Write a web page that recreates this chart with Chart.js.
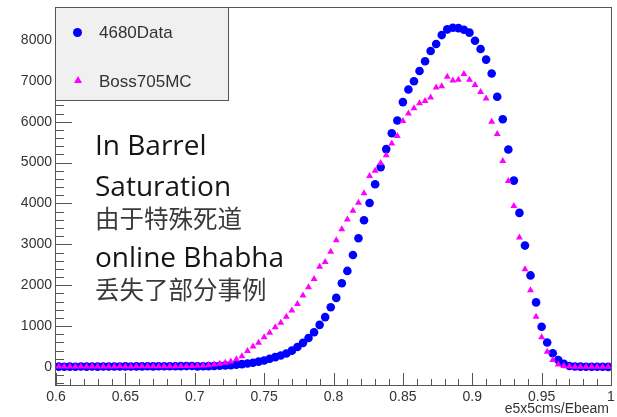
<!DOCTYPE html>
<html>
<head>
<meta charset="utf-8">
<script src="https://cdn.jsdelivr.net/npm/chart.js@4.4.1/dist/chart.umd.min.js"></script>
<style>
  body { margin: 0; background: #fff; }
  #wrap { position: relative; width: 617px; height: 417px; overflow: hidden; }
  #cv { position: absolute; left: 0; top: 0; }
  #legend {
    position: absolute; left: 55px; top: 7px; width: 172px; height: 92px;
    background: #f0f0f0; border: 1px solid #555;
  }
  .leg-txt {
    position: absolute; left: 43px; font: 17px "Liberation Sans", Arial, sans-serif;
    line-height: 17px; color: #333; white-space: nowrap;
  }
  .dot { position: absolute; left: 17px; top: 20px; width: 9px; height: 9px; border-radius: 50%; background: #0000ff; }
  .tri {
    position: absolute; left: 18px; top: 68px; width: 0; height: 0;
    border-left: 4px solid transparent; border-right: 4px solid transparent; border-bottom: 7px solid #ff00ff;
  }
  .note { position: absolute; left: 95px; white-space: nowrap; }
  .en { font: 28px "Open Sans", sans-serif; line-height: 28px; color: #151515; }
  .cn { font: 24.5px "Noto Sans CJK SC", sans-serif; line-height: 24.5px; color: #3a3a3a; }
  #xtitle {
    position: absolute; right: 8px; top: 401px; font: 14px "Liberation Sans", Arial, sans-serif;
    line-height: 14px; color: #333;
  }
</style>
</head>
<body>
<div id="wrap">
  <canvas id="cv" width="617" height="417"></canvas>
  <div id="legend">
    <div class="dot"></div><div class="leg-txt" style="top:16px">4680Data</div>
    <div class="tri"></div><div class="leg-txt" style="top:65px">Boss705MC</div>
  </div>
  <div class="note en" style="top:130px">In Barrel</div>
  <div class="note en" style="top:171px">Saturation</div>
  <div class="note cn" style="top:206px">由于特殊死道</div>
  <div class="note en" style="top:242px">online Bhabha</div>
  <div class="note cn" style="top:277px">丢失了部分事例</div>
  <div id="xtitle">e5x5cms/Ebeam</div>
</div>
<script>
// histogram binning of e5x5cms/Ebeam: 100 bins in [0.6, 1.0]
const binLow = 0.6;
const binWidth = 0.004;

// 4680 data, counts per bin
const data4680 = [
  8, 6, 9, 7, 10, 8, 11, 9, 12, 10,
  13, 11, 14, 12, 15, 14, 16, 15, 18, 17,
  19, 18, 21, 22, 24, 15, 17, 20, 25, 30,
  38, 45, 55, 70, 85, 105, 130, 160, 200, 240,
  280, 330, 400, 490, 590, 710, 850, 1030, 1220, 1460,
  1690, 2050, 2350, 2740, 3150, 3590, 4010, 4470, 4890, 5330,
  5720, 6030, 6480, 6790, 6990, 7240, 7480, 7730, 7900, 8120,
  8260, 8300, 8290, 8250, 8180, 7980, 7780, 7520, 7180, 6610,
  6060, 5320, 4560, 3770, 2970, 2240, 1580, 985, 600, 335,
  170, 75, 25, 12, 8, 6, 5, 4, 4, 3
];

// Boss705 MC, counts per bin
const mc705 = [
  10, 12, 9, 11, 13, 10, 12, 14, 11, 13,
  12, 15, 13, 14, 16, 15, 17, 16, 18, 17,
  19, 20, 21, 23, 25, 28, 35, 45, 60, 80,
  105, 135, 190, 260, 390, 500, 590, 725, 840, 970,
  1080, 1230, 1380, 1540, 1750, 1950, 2150, 2450, 2570, 2820,
  3100, 3370, 3610, 3820, 4020, 4250, 4670, 4800, 4990, 5180,
  5470, 5650, 6020, 6200, 6330, 6450, 6510, 6590, 6840, 6870,
  7100, 7010, 7030, 7170, 7030, 6900, 6730, 6570, 6000, 5700,
  5040, 4550, 3940, 3170, 2390, 1880, 1230, 730, 375, 170,
  60, 25, 12, 8, 6, 5, 5, 4, 4, 3
];

const xTicks = [0.6, 0.65, 0.7, 0.75, 0.8, 0.85, 0.9, 0.95, 1];
const xTickLabels = ['0.6', '0.65', '0.7', '0.75', '0.8', '0.85', '0.9', '0.95', '1'];
const yTicks = [0, 1000, 2000, 3000, 4000, 5000, 6000, 7000, 8000];

const binCenters = data4680.map((_, i) => binLow + binWidth * (i + 0.5));
const toPoints = (arr) => arr.map((v, i) => ({ x: binCenters[i], y: v }));

// ROOT-like frame with inward ticks, drawn under the markers
const rootFrame = {
  id: 'rootFrame',
  beforeDatasetsDraw(chart) {
    const ctx = chart.ctx;
    const a = chart.chartArea;
    const xs = chart.scales.x, ys = chart.scales.y;
    ctx.save();
    ctx.strokeStyle = '#555';
    ctx.lineWidth = 1;
    ctx.strokeRect(a.left - 0.5, a.top + 0.5, a.right - a.left + 1, a.bottom - a.top);

    ctx.beginPath();
    // x ticks: major every 0.05, 4 minors between
    const xStep = (xTicks[1] - xTicks[0]) / 5;
    for (let k = 0; k <= Math.round((xs.max - xs.min) / xStep); k++) {
      const v = xs.min + k * xStep;
      const px = Math.round(xs.getPixelForValue(v)) + 0.5;
      const len = k % 5 === 0 ? 12 : 6;
      ctx.moveTo(px, a.bottom);
      ctx.lineTo(px, a.bottom - len);
    }
    // y ticks: major every 1000, minors every 200
    const yStep = (yTicks[1] - yTicks[0]) / 5;
    for (let v = Math.ceil(ys.min / yStep) * yStep; v <= ys.max; v += yStep) {
      const py = Math.round(ys.getPixelForValue(v)) + 0.5;
      const len = Math.round(v) % 1000 === 0 ? 16 : 8;
      ctx.moveTo(a.left, py);
      ctx.lineTo(a.left + len, py);
    }
    ctx.stroke();
    ctx.restore();
  }
};

const tickFont = { family: 'Liberation Sans', size: 14 };

new Chart(document.getElementById('cv'), {
  type: 'scatter',
  data: {
    datasets: [
      {
        label: '4680Data',
        data: toPoints(data4680),
        pointStyle: 'circle',
        pointRadius: 4.3,
        borderWidth: 0,
        backgroundColor: '#0000ff',
        borderColor: '#0000ff',
        order: 1
      },
      {
        label: 'Boss705MC',
        data: toPoints(mc705),
        pointStyle: 'triangle',
        pointRadius: 4,
        borderWidth: 0,
        backgroundColor: '#ff00ff',
        borderColor: '#ff00ff',
        order: 0
      }
    ]
  },
  options: {
    responsive: false,
    animation: false,
    devicePixelRatio: 1,
    layout: { padding: { top: 7, right: 6, left: 0, bottom: 0 } },
    plugins: { legend: { display: false }, tooltip: { enabled: false } },
    events: [],
    scales: {
      x: {
        type: 'linear',
        min: 0.6,
        max: 1.0,
        grid: { display: false },
        border: { display: false },
        afterBuildTicks: (s) => { s.ticks = xTicks.map(v => ({ value: v })); },
        afterFit: (s) => { s.height = 32; },
        ticks: {
          font: tickFont,
          color: '#333',
          padding: -4,
          maxRotation: 0,
          autoSkip: false,
          callback: (v) => xTickLabels[xTicks.findIndex(t => Math.abs(t - v) < 1e-9)]
        }
      },
      y: {
        type: 'linear',
        min: -441,
        max: 8807,
        grid: { display: false },
        border: { display: false },
        afterBuildTicks: (s) => { s.ticks = yTicks.map(v => ({ value: v })); },
        afterFit: (s) => { s.width = 56; },
        ticks: {
          font: tickFont,
          color: '#333',
          padding: -4,
          callback: (v) => String(v)
        }
      }
    }
  },
  plugins: [rootFrame]
});
</script>
</body>
</html>
